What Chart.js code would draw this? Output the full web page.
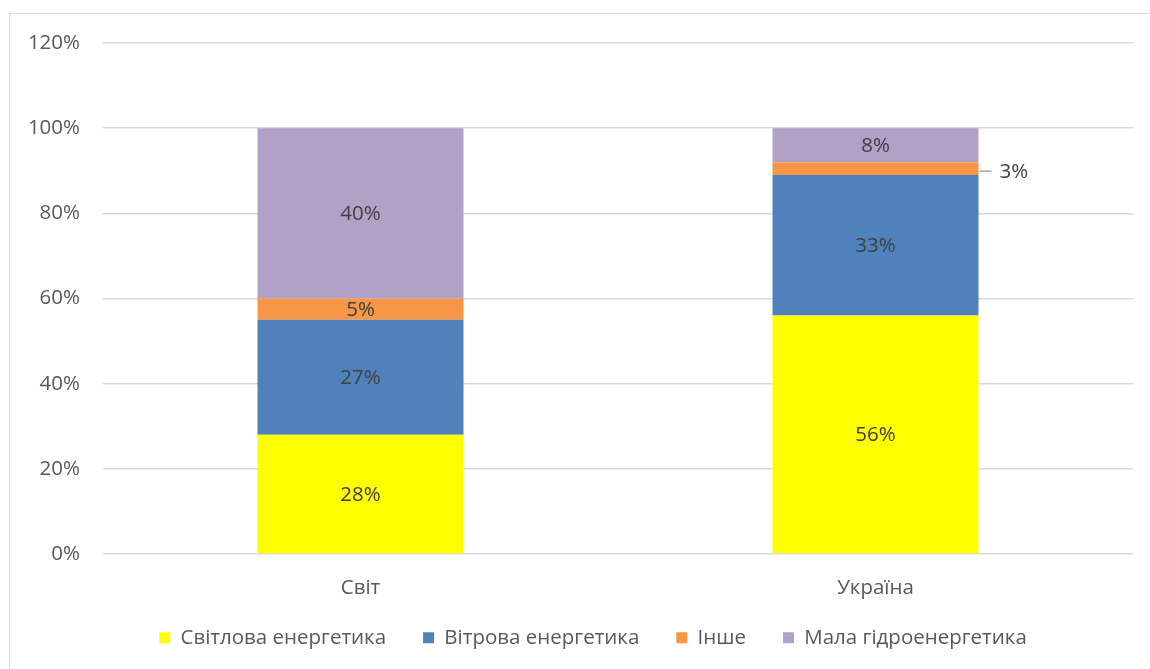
<!DOCTYPE html>
<html>
<head>
<meta charset="utf-8">
<script src="https://cdn.jsdelivr.net/npm/chart.js@4"></script>
<style>
  html, body { margin: 0; padding: 0; background: #fff; }
  #wrap {
    position: absolute; left: 9px; top: 13px;
    width: 1150px; height: 670px;
    border: 1.5px solid #d9d9d9;
    box-sizing: border-box;
  }
  #chart { position: absolute; left: 0; top: 0; }
</style>
</head>
<body>
<div id="wrap"></div>
<canvas id="chart" width="1150" height="669"></canvas>
<script>
// Categories and shares (%)
const regions = ['Світ', 'Україна'];
const solar = [28, 56];
const wind = [27, 33];
const other = [5, 3];
const smallHydro = [40, 8];
const yTicks = [0, 20, 40, 60, 80, 100, 120];

const font = "'Open Sans', 'Noto Sans', sans-serif";
const fontSize = 20.5;

// Simple inline data labels
const barLabels = {
    id: 'barLabels',
    afterDatasetsDraw(chart) {
        const ctx = chart.ctx;
        ctx.save();
        ctx.font = fontSize + 'px ' + font;
        ctx.fillStyle = '#404040';
        chart.data.datasets.forEach((ds, i) => {
            const meta = chart.getDatasetMeta(i);
            meta.data.forEach((bar, j) => {
                const v = ds.data[j];
                const midY = (bar.y + bar.base) / 2;
                if (v < 4) {
                    // small segment: label to the right with a leader line
                    const x0 = bar.x + bar.width / 2 + 1;
                    ctx.strokeStyle = '#a6a6a6';
                    ctx.lineWidth = 1.5;
                    ctx.beginPath();
                    ctx.moveTo(x0, midY + 2.5);
                    ctx.lineTo(x0 + 12, midY + 2.5);
                    ctx.stroke();
                    ctx.textAlign = 'left';
                    ctx.textBaseline = 'middle';
                    ctx.fillText(v + '%', x0 + 20, midY + 4);
                } else {
                    ctx.textAlign = 'center';
                    ctx.textBaseline = 'middle';
                    ctx.fillText(v + '%', bar.x, midY + 1);
                }
            });
        });
        ctx.restore();
    }
};

// fixed axis sizes; let tick labels spill outside the axis box
function fixSize(prop, size) {
    return axis => {
        axis[prop] = size;
        axis._computeLabelArea = () => undefined;
    };
}

const ctx = document.getElementById('chart').getContext('2d');
const chart = new Chart(ctx, {
    type: 'bar',
    data: {
        labels: regions,
        datasets: [
            { label: 'Світлова енергетика', data: solar, backgroundColor: '#ffff00' },
            { label: 'Вітрова енергетика', data: wind, backgroundColor: '#4f81bd' },
            { label: 'Інше', data: other, backgroundColor: '#f79646' },
            { label: 'Мала гідроенергетика', data: smallHydro, backgroundColor: '#b2a1c7' }
        ]
    },
    options: {
        responsive: false,
        animation: false,
        devicePixelRatio: 1,
        layout: { padding: { left: 53, right: 17, top: 43, bottom: 11 } },
        datasets: {
            bar: { barPercentage: 0.4, categoryPercentage: 1, borderWidth: 0 }
        },
        plugins: {
            legend: {
                position: 'bottom',
                labels: {
                    boxWidth: 11,
                    boxHeight: 11,
                    padding: 37,
                    color: '#595959',
                    font: { family: font, size: fontSize }
                }
            },
            tooltip: { enabled: false }
        },
        scales: {
            x: {
                stacked: true,
                grid: { display: false },
                border: { display: false },
                ticks: { color: '#595959', font: { family: font, size: fontSize }, padding: 14 },
                afterFit: fixSize('height', 36.5)
            },
            y: {
                stacked: true,
                min: 0,
                max: 120,
                afterBuildTicks: axis => { axis.ticks = yTicks.map(v => ({ value: v })); },
                afterFit: fixSize('width', 50),
                grid: { color: '#d9d9d9', lineWidth: 1.5, drawTicks: false },
                border: { display: false },
                ticks: {
                    color: '#595959',
                    font: { family: font, size: fontSize },
                    padding: 23,
                    callback: v => v + '%'
                }
            }
        }
    },
    plugins: [barLabels]
});
</script>
</body>
</html>
